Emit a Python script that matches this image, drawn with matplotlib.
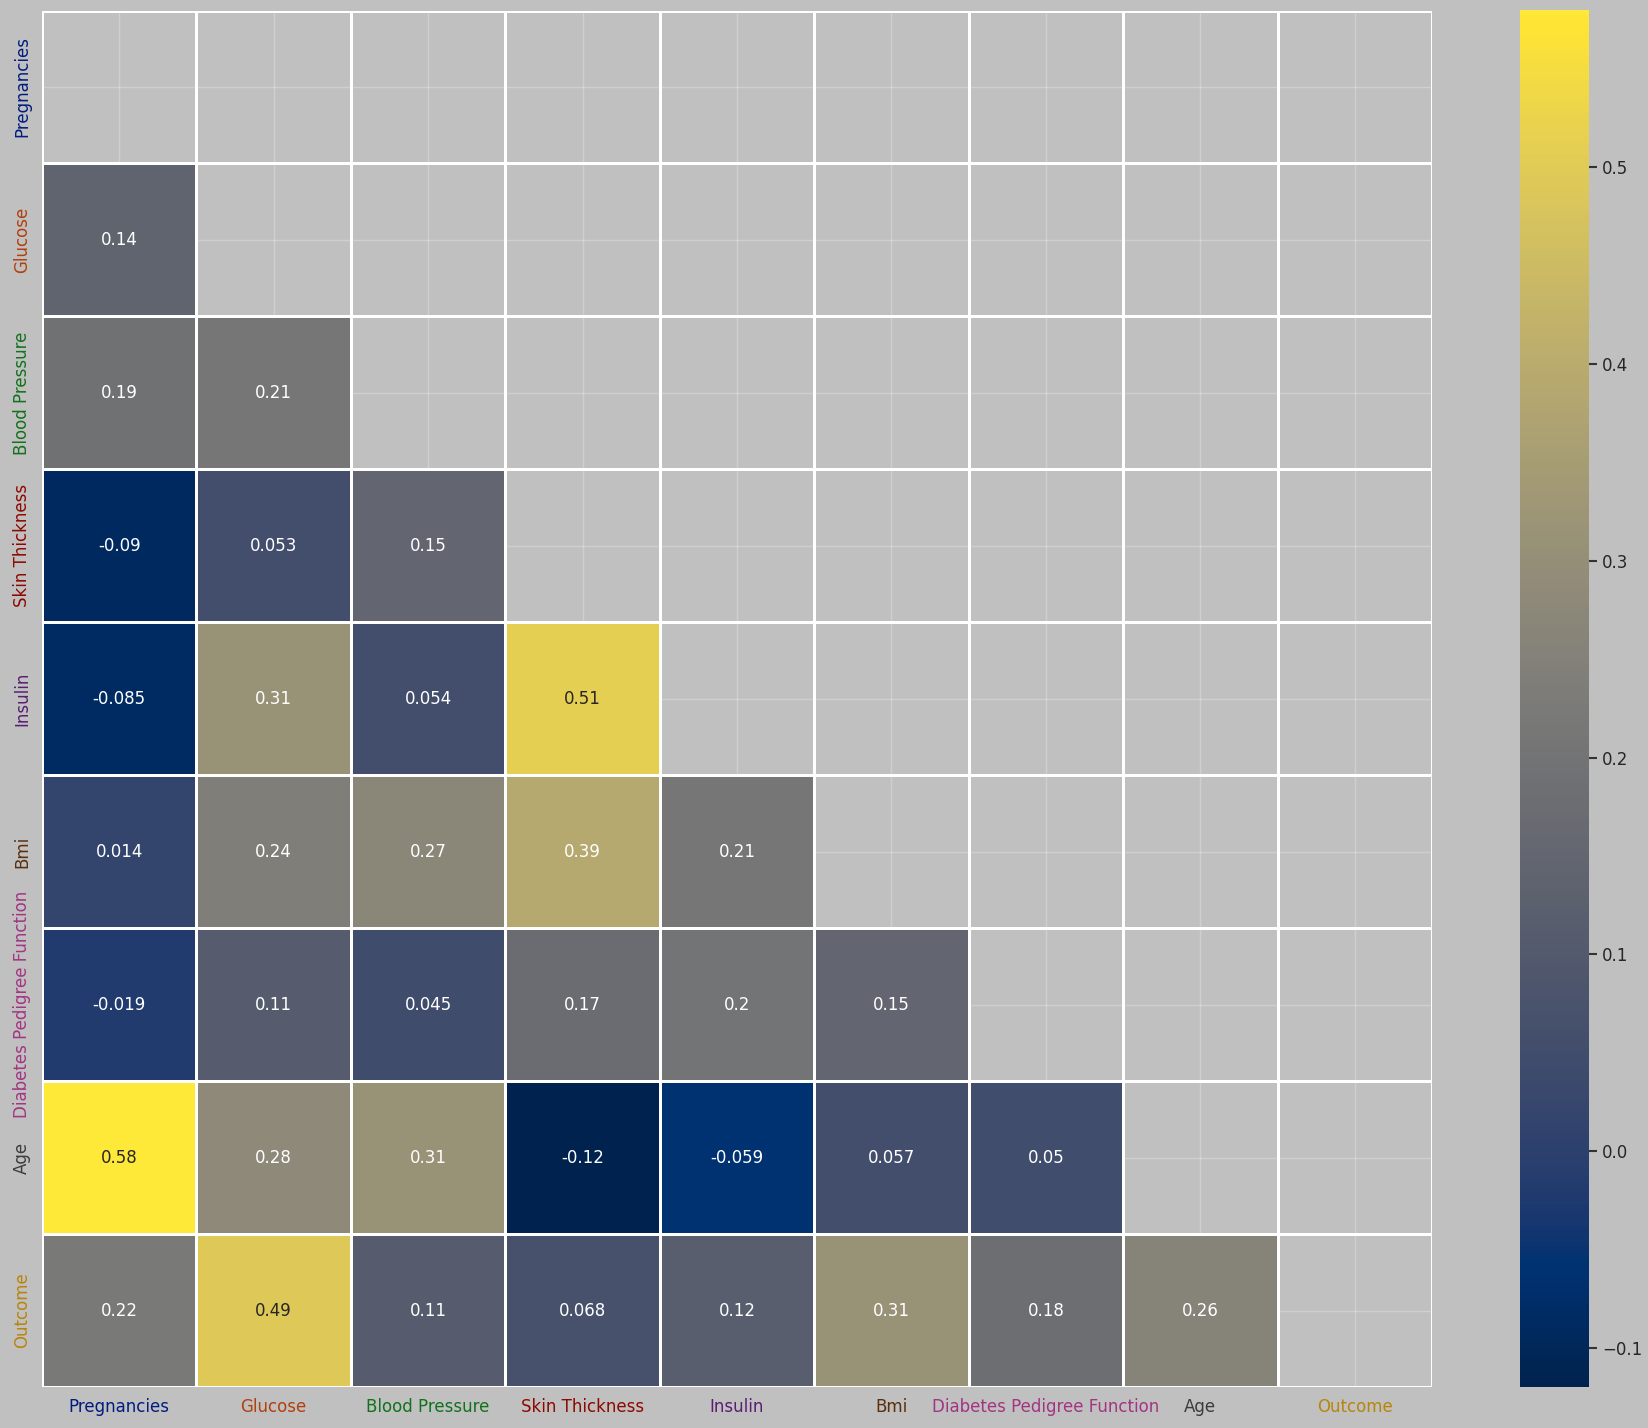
import numpy as np
import pandas as pd
import seaborn as sns
from matplotlib import pyplot as plt

cols = ['Pregnancies', 'Glucose', 'Blood Pressure', 'Skin Thickness', 'Insulin',
        'Bmi', 'Diabetes Pedigree Function', 'Age', 'Outcome']

# lower triangle of the correlation matrix, row by row
r_glucose = [0.14]
r_bp = [0.19, 0.21]
r_skin = [-0.09, 0.053, 0.15]
r_insulin = [-0.085, 0.31, 0.054, 0.51]
r_bmi = [0.014, 0.24, 0.27, 0.39, 0.21]
r_dpf = [-0.019, 0.11, 0.045, 0.17, 0.2, 0.15]
r_age = [0.58, 0.28, 0.31, -0.12, -0.059, 0.057, 0.05]
r_outcome = [0.22, 0.49, 0.11, 0.068, 0.12, 0.31, 0.18, 0.26]

label_colors = ['#001c7f', '#b1400d', '#12711c', '#8c0800', '#591e71',
                '#592f0d', '#a23582', '#3c3c3c', '#b8850a']

rows = [[], r_glucose, r_bp, r_skin, r_insulin, r_bmi, r_dpf, r_age, r_outcome]
n = len(cols)
corr = np.eye(n)
for i, r in enumerate(rows):
    for j, v in enumerate(r):
        corr[i, j] = v
        corr[j, i] = v
corr = pd.DataFrame(corr, index=cols, columns=cols)
mask = np.triu(np.ones_like(corr, dtype=bool))

bg = '#c0c0c0'
plt.rcParams['figure.facecolor'] = bg
plt.rcParams['axes.facecolor'] = bg
plt.rcParams['font.family'] = ['DejaVu Sans']

fig = plt.figure(figsize=(16.49, 14.28), dpi=100)
ax = fig.add_axes([42 / 1649, 1 - 1387 / 1428, (1432 - 42) / 1649, (1387 - 10.5) / 1428])
cax = fig.add_axes([1520 / 1649, 1 - 1387 / 1428, 69 / 1649, (1387 - 10) / 1428])

ax.set_axisbelow(True)
ax.grid(True, color='white', alpha=0.25, linewidth=1)
sns.heatmap(corr, mask=mask, cmap='cividis', annot=True, fmt='.2g',
            linewidths=2, linecolor='white', ax=ax, cbar_ax=cax,
            annot_kws={'fontsize': 12})
ax.grid(True, color='white', alpha=0.25, linewidth=1)
ax.set_axisbelow(True)

ax.tick_params(axis='both', length=0, labelsize=12, pad=8)
ax.set_xticklabels(cols, rotation=0)
ax.set_yticklabels(cols, rotation=90, va='center')
for lab, c in zip(ax.get_xticklabels(), label_colors):
    lab.set_color(c)
for lab, c in zip(ax.get_yticklabels(), label_colors):
    lab.set_color(c)
for s in ax.spines.values():
    s.set_visible(False)

cax.tick_params(labelsize=12, length=6, width=1.5, color='#333333', labelcolor='#262626')
cax.set_frame_on(False)

fig.savefig('out.png', dpi=100, facecolor=bg)
